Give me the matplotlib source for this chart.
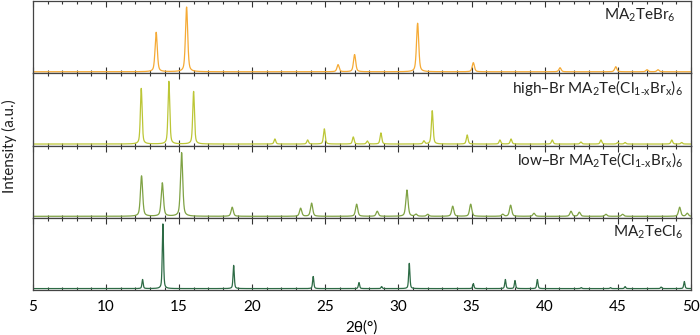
import numpy as np
import matplotlib
matplotlib.use("Agg")
import matplotlib.pyplot as plt
from matplotlib.ticker import MultipleLocator

plt.rcParams['font.family'] = ['Lato', 'DejaVu Sans']
plt.rcParams['mathtext.default'] = 'regular'
plt.rcParams['font.size'] = 10

# peak positions (2theta, deg) and heights (a.u.)
br_pos = [13.43, 15.51, 25.87, 27.00, 31.31, 35.12, 41.05, 44.86, 47.00, 47.75]
br_hgt = [39, 64, 7, 17, 48, 9, 4, 5, 2, 2]

hbr_pos = [12.41, 14.30, 15.99, 21.55, 23.79, 24.93, 26.91, 27.87, 28.80, 31.74,
           32.31, 34.70, 36.94, 37.70, 40.52, 42.48, 43.85, 45.00, 45.50, 48.69, 49.37]
hbr_hgt = [55, 62, 52, 5, 4, 15, 7, 3, 11, 3,
           33, 9, 4, 5, 4, 2, 4, 1.5, 1.5, 4, 1.5]

lbr_pos = [12.43, 13.85, 15.17, 18.63, 23.31, 24.06, 27.14, 28.55, 30.58, 31.20,
           32.00, 33.71, 34.94, 37.13, 37.67, 39.27, 41.80, 42.37, 44.19, 45.33,
           49.23, 49.75]
lbr_hgt = [40, 33, 63, 9, 8, 13, 12, 5, 26, 2,
           2, 10, 12, 2, 11, 3, 5, 4, 2, 2,
           9, 3]

cl_pos = [12.50, 13.89, 18.73, 24.17, 27.30, 28.85, 30.74, 35.12, 37.31, 37.97,
          39.50, 42.50, 44.50, 45.50, 47.96, 49.55]
cl_hgt = [9, 64, 23, 12, 6, 2, 25, 5, 9, 8,
          9, 1, 1, 2, 1.5, 7]

labels = [r"MA$_2$TeBr$_6$",
          r"high–Br MA$_2$Te(Cl$_{1\text{-}x}$Br$_x$)$_6$",
          r"low–Br MA$_2$Te(Cl$_{1\text{-}x}$Br$_x$)$_6$",
          r"MA$_2$TeCl$_6$"]
label_x = [0.976, 0.988, 0.988, 0.988]
colors = ['#F5AA35', '#BCC636', '#7FA244', '#2D6B45']
widths = [0.09, 0.07, 0.09, 0.05]

tt = np.linspace(5, 50, 9000)

def pattern(pos, hgt, w):
    y = np.zeros_like(tt)
    for p, h in zip(pos, hgt):
        y += h * (0.5 / (1 + ((tt - p) / w) ** 2) + 0.5 * np.exp(-np.log(2) * ((tt - p) / w) ** 2))
    return y

data = [(br_pos, br_hgt), (hbr_pos, hbr_hgt), (lbr_pos, lbr_hgt), (cl_pos, cl_hgt)]

fig, axs = plt.subplots(4, 1, figsize=(7.0, 3.35), dpi=100, sharex=True)
plt.subplots_adjust(left=0.047, right=0.987, top=0.997, bottom=0.134, hspace=0)

for i, ax in enumerate(axs):
    pos, hgt = data[i]
    ax.plot(tt, pattern(pos, hgt, widths[i]), color=colors[i], lw=0.9)
    ax.set_xlim(5, 50)
    ax.set_ylim(-1.5, 70)
    ax.set_yticks([])
    ax.xaxis.set_major_locator(MultipleLocator(5))
    ax.xaxis.set_minor_locator(MultipleLocator(1))
    ax.tick_params(axis='x', which='both', direction='in', top=True, bottom=True,
                   color='#333333', labelsize=11, pad=7)
    ax.tick_params(axis='x', which='major', length=4, width=0.8)
    ax.tick_params(axis='x', which='minor', length=2.5, width=0.8)
    for s in ax.spines.values():
        s.set_color('#444444')
        s.set_linewidth(0.9)
    ax.text(label_x[i], 0.80, labels[i], transform=ax.transAxes, ha='right', va='center',
            fontsize=11, color='#222222')

axs[-1].set_xlabel("2θ(°)", fontsize=11, labelpad=5)
fig.text(0.014, 0.565, "Intensity (a.u.)", rotation=90, ha='center', va='center',
         fontsize=11, color='#222222')

fig.savefig("out.png", dpi=100)
